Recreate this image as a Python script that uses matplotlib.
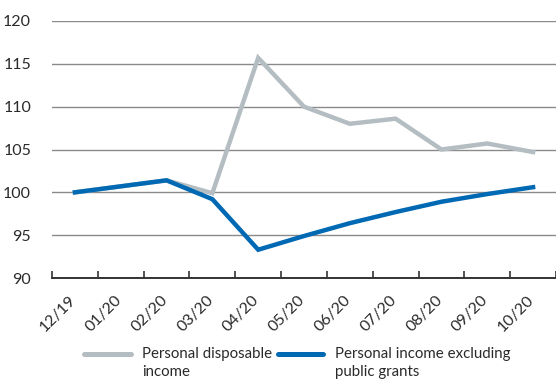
import matplotlib
matplotlib.use("Agg")
import matplotlib.pyplot as plt
from matplotlib.lines import Line2D
import numpy as np

# ==================== Data ====================
months = ["12/19", "01/20", "02/20", "03/20", "04/20", "05/20",
          "06/20", "07/20", "08/20", "09/20", "10/20"]
disposable = [100.0, 100.7, 101.4, 99.9, 115.7, 110.0, 108.0, 108.6, 105.0, 105.7, 104.7]
excl_grants = [100.0, 100.7, 101.4, 99.2, 93.3, 94.9, 96.4, 97.7, 98.9, 99.8, 100.6]
yticks = [90, 95, 100, 105, 110, 115, 120]

GRAY = "#b4bec2"
BLUE = "#0069b4"
TXT = "#2a2a2a"
W, H = 556, 379

plt.rcParams["font.family"] = ["Lato", "DejaVu Sans"]

fig = plt.figure(figsize=(W / 100, H / 100), dpi=100)
# axes spans pixel x 52..556, y 21..278
ax = fig.add_axes([52 / W, (H - 278) / H, (556 - 52) / W, (278 - 21) / H])

x = np.arange(len(months))
ax.plot(x, disposable, color=GRAY, lw=3.2, solid_joinstyle="miter", zorder=3)
ax.plot(x, excl_grants, color=BLUE, lw=3.2, solid_joinstyle="miter", zorder=4)

ax.set_xlim(-0.5, len(months) - 0.5)
ax.set_ylim(90, 120)

# category axis: ticks on the boundaries, labels in the middle
ax.set_xticks(np.arange(len(months) + 1) - 0.5, minor=True)
ax.set_xticks(x + 0.08)
ax.set_xticklabels(months, rotation=45, ha="right", va="top", fontsize=11.5, color=TXT)
ax.tick_params(axis="x", which="major", length=0, pad=11)
ax.tick_params(axis="x", which="minor", direction="in", length=5, width=1.2, color="#333333")

ax.set_yticks(yticks)
ax.tick_params(axis="y", length=0, pad=15, labelsize=11.5, labelcolor=TXT)
ax.yaxis.grid(True, color="#8a8a8a", lw=1.0)
ax.set_axisbelow(True)

for s in ["left", "right", "top"]:
    ax.spines[s].set_visible(False)
ax.spines["bottom"].set_color("#333333")
ax.spines["bottom"].set_linewidth(1.4)
ax.spines["bottom"].set_zorder(5)

# legend drawn by hand
def fx(p):
    return p / W

def fy(p):
    return 1 - p / H

fig.add_artist(Line2D([fx(84), fx(131)], [fy(354), fy(354)], color=GRAY, lw=3.6,
                      solid_capstyle="round"))
fig.text(fx(142), fy(354), "Personal disposable", fontsize=10.8, va="center", color=TXT)
fig.text(fx(142), fy(372), "income", fontsize=10.8, va="center", color=TXT)
fig.add_artist(Line2D([fx(278), fx(323)], [fy(354), fy(354)], color=BLUE, lw=3.6,
                      solid_capstyle="round"))
fig.text(fx(335), fy(354), "Personal income excluding", fontsize=10.8, va="center", color=TXT)
fig.text(fx(335), fy(372), "public grants", fontsize=10.8, va="center", color=TXT)

fig.savefig("out.png", dpi=100)
